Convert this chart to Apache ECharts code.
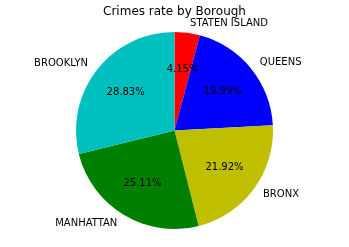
<!DOCTYPE html>
<html>
<head>
<meta charset="utf-8">
<script src="https://cdn.jsdelivr.net/npm/echarts@6/dist/echarts.min.js"></script>
<style>html,body{margin:0;padding:0;background:#fff}#c{width:349px;height:247px}</style>
</head>
<body>
<div id="c"></div>
<script>
var categories = ['STATEN ISLAND', 'QUEENS', 'BRONX', 'MANHATTAN', 'BROOKLYN'];
var values = [4.15, 19.99, 21.92, 25.11, 28.83];
var colors = ['#ff0000', '#0000ff', '#bfbf00', '#008000', '#00bfbf'];

var data = categories.map(function (c, i) {
  return { name: c, value: values[i], itemStyle: { color: colors[i] } };
});
var dataPct = categories.map(function (c, i) {
  return { name: c, value: values[i] };
});
var font = 'DejaVu Sans';
var cx = 174.5, cy = 130.5, R = 98.5;
var chart = echarts.init(document.getElementById('c'), null, { renderer: 'canvas' });
chart.setOption({
  animation: false,
  title: {
    text: 'Crimes rate by Borough',
    left: 'center',
    top: 1,
    textStyle: { fontFamily: font, fontSize: 12, fontWeight: 'normal', color: '#000' }
  },
  series: [
    {
      type: 'pie',
      center: [cx, cy],
      radius: R,
      startAngle: 90,
      clockwise: true,
      avoidLabelOverlap: false,
      silent: true,
      data: data,
      label: {
        show: true,
        position: 'outside',
        alignTo: 'none',
        distanceToLabelLine: 0,
        fontFamily: font,
        fontSize: 10,
        color: '#000',
        padding: [5, 0, 0, 0],
        formatter: '{b}'
      },
      labelLine: { show: false, length: 9.5, length2: 1.5 },
      itemStyle: { borderWidth: 0 },
      emphasis: { disabled: true }
    },
    {
      type: 'pie',
      center: [cx, cy],
      radius: [0, R * 1.2],
      startAngle: 90,
      clockwise: true,
      avoidLabelOverlap: false,
      silent: true,
      data: dataPct,
      itemStyle: { color: 'rgba(0,0,0,0)', borderWidth: 0 },
      label: {
        show: true,
        position: 'inside',
        fontFamily: font,
        fontSize: 10,
        color: '#000',
        formatter: function (p) { return p.value.toFixed(2) + '%'; }
      },
      labelLine: { show: false },
      emphasis: { disabled: true }
    }
  ]
});
</script>
</body>
</html>
